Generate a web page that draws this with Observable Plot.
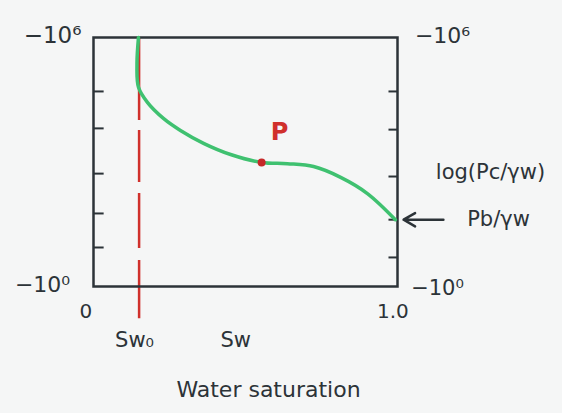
<!DOCTYPE html>
<html><head><meta charset="utf-8">
<script src="https://cdn.jsdelivr.net/npm/d3@7"></script>
<script src="https://cdn.jsdelivr.net/npm/@observablehq/plot@0.6"></script>
<style>html,body{margin:0;background:#f5f6f6} svg{display:block}</style>
</head><body><div id="chart"></div>
<script>
// Water saturation (x) vs log10(Pc/γw) (y)
const swCurve    = [0.148, 0.143, 0.148, 0.178, 0.230, 0.286, 0.362, 0.451, 0.553, 0.638, 0.724, 0.813, 0.901, 0.993];
const logPcCurve = [6.00, 5.37, 4.80, 4.43, 4.05, 3.76, 3.45, 3.18, 2.99, 2.96, 2.89, 2.63, 2.24, 1.61];
const swIrreducible = 0.15;
const pointSw = [0.553];
const pointLogPc = [2.99];
const pointLabel = ["P"];
const leftTicks  = [0.94, 1.76, 2.72, 3.81, 4.70];
const rightTicks = [0.70, 1.61, 2.65, 3.78, 4.70];
const yTopLabel = "−10⁶";
const yBottomLabel = "−10⁰";
const xEndLabels = ["0", "1.0"];
const xEndValues = [-0.025, 0.985];
const xSymLabels = ["Sw₀", "Sw"];
const xSymValues = [0.135, 0.468];
const entryLogPc = 1.61;
const yTitle = "log(Pc/γw)";
const entryLabel = "Pb/γw";
const xTitle = "Water saturation";

const ink = "#2c3338", green = "#3fc170", red = "#d0302c";
const curve = swCurve.map((s, i) => ({sw: s, lp: logPcCurve[i]}));
const font = "DejaVu Sans, sans-serif";
const T = {fill: ink, textAnchor: "middle"};

const chart = Plot.plot({
  width: 562, height: 413,
  marginLeft: 93, marginRight: 165, marginTop: 37, marginBottom: 127,
  style: {background: "#f5f6f6", fontFamily: font},
  x: {domain: [0, 1], axis: null},
  y: {domain: [0, 6], axis: null},
  marks: [
    Plot.ruleX([swIrreducible], {y1: 6, y2: -0.78, stroke: red, strokeWidth: 2.5, strokeDasharray: "83,10,52,11,55,12,60"}),
    Plot.frame({stroke: ink, strokeWidth: 2.5}),
    Plot.ruleY(leftTicks, {x1: 0, x2: 0.035, stroke: ink, strokeWidth: 2}),
    Plot.ruleY(rightTicks, {x1: 0.972, x2: 1, stroke: ink, strokeWidth: 2}),
    Plot.line(curve, {x: "sw", y: "lp", stroke: green, strokeWidth: 3.5, curve: "catmull-rom"}),
    Plot.dot(pointSw, {x: d => d, y: pointLogPc, r: 4, fill: "#c62828"}),
    Plot.text(pointLabel, {x: pointSw, y: pointLogPc, text: d => d, dx: 18, dy: -30, fill: red, fontSize: 24, fontWeight: "bold", textAnchor: "middle"}),
    Plot.text([yTopLabel], {y: 6, text: d => d, frameAnchor: "left", dx: -41, dy: -2, fontSize: 23, ...T}),
    Plot.text([yTopLabel], {y: 6, text: d => d, frameAnchor: "right", dx: 45, dy: -2, fontSize: 22, ...T}),
    Plot.text([yBottomLabel], {y: 0, text: d => d, frameAnchor: "left", dx: -51, dy: -2, fontSize: 22, ...T}),
    Plot.text([yBottomLabel], {y: 0, text: d => d, frameAnchor: "right", dx: 40, dy: 2, fontSize: 21, ...T}),
    Plot.text(xEndLabels, {x: xEndValues, text: d => d, frameAnchor: "bottom", dy: 31, fontSize: 20, ...T}),
    Plot.text(xSymLabels, {x: xSymValues, text: d => d, frameAnchor: "bottom", dy: 60, fontSize: 21, ...T}),
    Plot.text([xTitle], {text: d => d, frameAnchor: "bottom", dx: 23, dy: 110, fontSize: 22, ...T}),
    Plot.text([yTitle], {y: 2.75, text: d => d, frameAnchor: "right", dx: 93, fontSize: 21, ...T}),
    Plot.arrow([entryLogPc], {x1: 1.151, x2: 1.02, y1: d => d, y2: d => d, stroke: ink, strokeWidth: 2.5, headLength: 12}),
    Plot.text([entryLabel], {y: entryLogPc, text: d => d, frameAnchor: "right", dx: 101, fontSize: 21, ...T})
  ]
});
document.getElementById("chart").append(chart);
</script></body></html>
